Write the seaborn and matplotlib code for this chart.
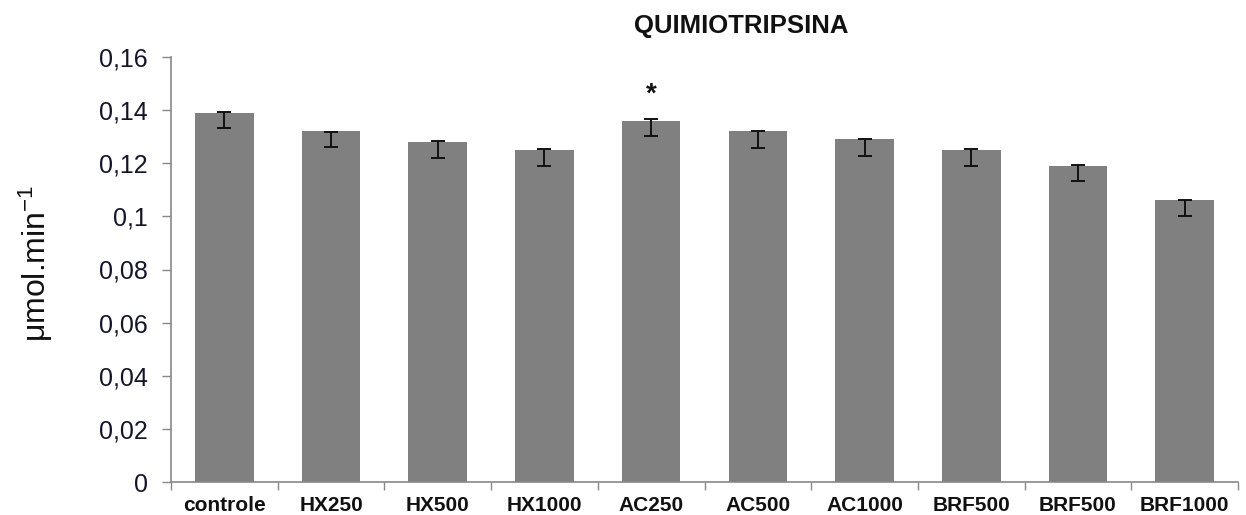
import matplotlib
matplotlib.use("Agg")
import matplotlib.pyplot as plt
import seaborn as sns
import pandas as pd
import numpy as np
from matplotlib.ticker import FixedLocator, FuncFormatter

# ---- data ----
categories = ["controle", "HX250", "HX500", "HX1000", "AC250",
              "AC500", "AC1000", "BRF500", "BRF500", "BRF1000"]
bar_heights = [0.1388, 0.1321, 0.1279, 0.1249, 0.1359,
               0.1321, 0.1291, 0.1249, 0.1189, 0.1062]
err_low = [0.1332, 0.1260, 0.1221, 0.1191, 0.1303,
           0.1259, 0.1227, 0.1191, 0.1132, 0.1002]
err_high = [0.1394, 0.1319, 0.1284, 0.1254, 0.1366,
            0.1321, 0.1290, 0.1254, 0.1194, 0.1062]
significant = [False, False, False, False, True,
               False, False, False, False, False]
yticks = [0, 0.02, 0.04, 0.06, 0.08, 0.1, 0.12, 0.14, 0.16]
title = "QUIMIOTRIPSINA"
ylabel = r"μmol.min$^{-1}$"

sns.set_theme(style="white")
plt.rcParams['font.family'] = ['Liberation Sans', 'DejaVu Sans']
plt.rcParams['mathtext.fontset'] = 'custom'
plt.rcParams['mathtext.rm'] = 'Liberation Sans'
plt.rcParams['mathtext.it'] = 'Liberation Sans'
plt.rcParams['mathtext.default'] = 'regular'

fig = plt.figure(figsize=(12.46, 5.15), dpi=100)
ax = fig.add_axes([171 / 1246, 1 - 482 / 515, (1238 - 171) / 1246, (482 - 57) / 515])

keys = [f"{i}_{c}" for i, c in enumerate(categories)]
df = pd.DataFrame({"key": keys, "value": bar_heights})
sns.barplot(data=df, x="key", y="value", order=keys, color="#808080",
            saturation=1, width=0.55, errorbar=None, ax=ax, edgecolor="none")

mid = (np.array(err_low) + np.array(err_high)) / 2
lo = mid - np.array(err_low)
hi = np.array(err_high) - mid
ax.errorbar(np.arange(len(keys)), mid, yerr=[lo, hi], fmt="none",
            ecolor="#111111", elinewidth=1.4, capsize=4.7, capthick=1.4, zorder=5)

for i, s in enumerate(significant):
    if s:
        ax.text(i, err_high[i] + 0.0094, "*", ha="center", va="center",
                fontsize=20, fontweight="bold", color="#111111")

ax.set_ylim(0, 0.16)
ax.set_xlim(-0.5, len(keys) - 0.5)
ax.set_yticks(yticks)
ax.yaxis.set_major_formatter(FuncFormatter(lambda v, p: ("%g" % round(v, 2)).replace(".", ",")))
ax.set_xticks(np.arange(len(keys)))
ax.set_xticklabels(categories, fontweight="bold", fontsize=15, color="#111111")
ax.xaxis.set_minor_locator(FixedLocator(np.arange(-0.5, len(keys), 1.0)))
ax.tick_params(axis="x", which="major", length=0, pad=10)
ax.tick_params(axis="x", which="minor", length=6, width=1, color="#888888", direction="out", bottom=True)
ax.tick_params(axis="y", which="major", length=6.5, width=1, color="#888888", direction="out",
               left=True, labelsize=18, labelcolor="#15152a", pad=10)
ax.set_xlabel("")
ax.set_ylabel(ylabel, fontsize=23, color="#111111")
ax.yaxis.label.set_va("center")
ax.yaxis.set_label_coords((36 - 171) / 1067, (482 - 263) / 425)

for side in ["top", "right"]:
    ax.spines[side].set_visible(False)
for side in ["left", "bottom"]:
    ax.spines[side].set_color("#888888")
    ax.spines[side].set_linewidth(1.2)

fig.text(741 / 1246, 1 - 26 / 515, title, ha="center", va="center",
         fontsize=18.5, fontweight="bold", color="#111111")

fig.savefig("out.png", dpi=100)
